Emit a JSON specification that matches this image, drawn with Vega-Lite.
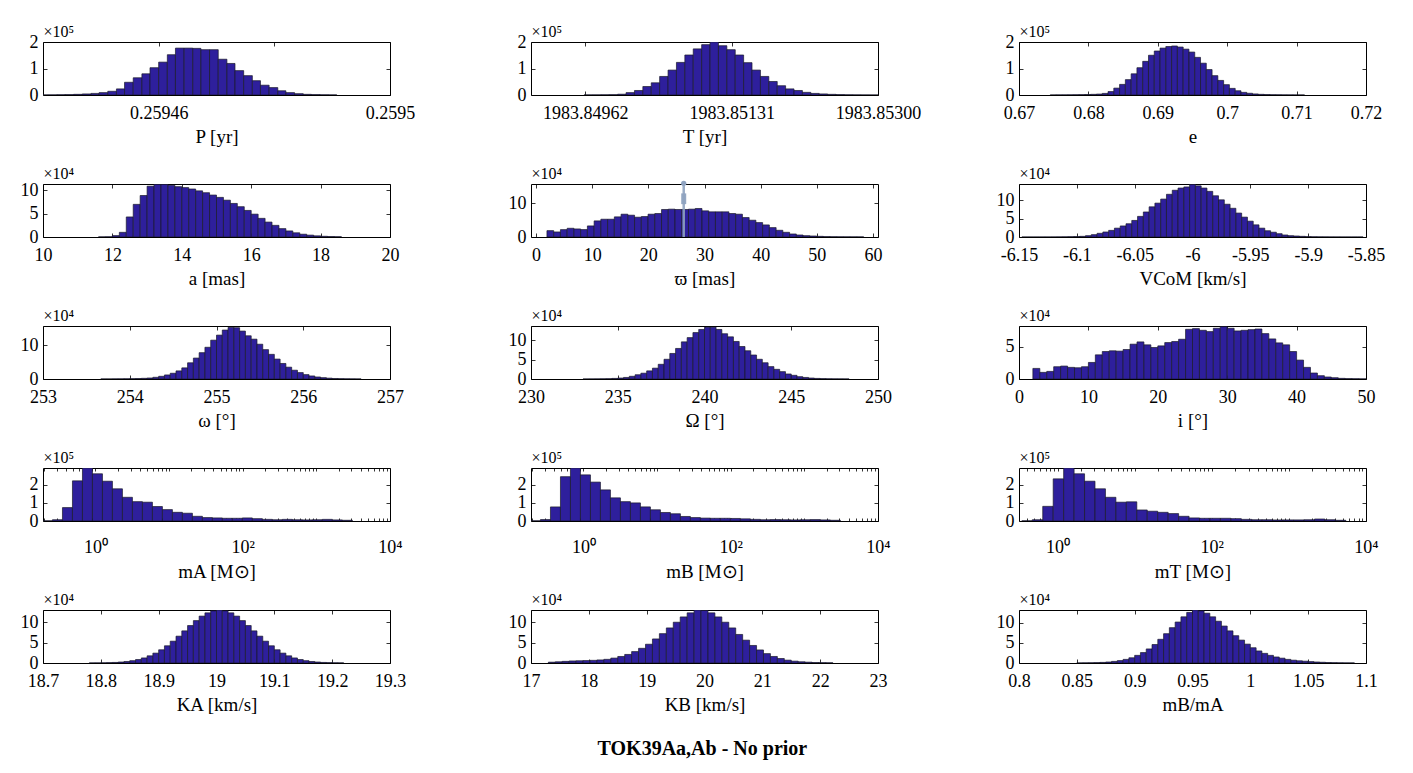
{
"$schema":"https://vega.github.io/schema/vega-lite/v6.json",
"background":"white",
"autosize":{"type":"pad"},
"padding":{"left":19,"top":22,"right":5,"bottom":5},
"bounds":"flush",
"columns":3,
"spacing":{"row":89,"column":141},
"title":{"text":"TOK39Aa,Ab - No prior","orient":"bottom","anchor":"middle","fontSize":20,"fontWeight":"bold","font":"Liberation Serif","color":"#000","offset":24},
"config":{
 "font":"Liberation Serif",
 "locale":{"number":{"decimal":".","thousands":",","grouping":[3],"currency":["$",""],"minus":"-"}},
 "view":{"stroke":"#000","strokeWidth":1},
 "axis":{"domain":false,"grid":false,"tickColor":"#000","tickWidth":0.8,"tickSize":-4,"labelFont":"Liberation Serif","labelFontSize":18,"labelColor":"#000","titleFont":"Liberation Serif","titleFontSize":19,"titleFontWeight":"normal","titleColor":"#000","labelFlush":false,"labelOverlap":false,"labelBound":false},
 "axisBottom":{"labelPadding":13,"titlePadding":5},
 "axisLeft":{"labelPadding":9,"titleAngle":0,"titleAlign":"left","titleBaseline":"alphabetic","titleX":0,"titleY":-6,"titleFontSize":16},
 "axisTop":{"labels":false},
 "axisRight":{"labels":false}
},
"datasets":{
"P":[{"a":0.2594394,"b":0.2594409,"c":0.003},{"a":0.2594409,"b":0.2594424,"c":0.005},{"a":0.2594424,"b":0.2594438,"c":0.01},{"a":0.2594438,"b":0.2594453,"c":0.015},{"a":0.2594453,"b":0.2594468,"c":0.025},{"a":0.2594468,"b":0.2594483,"c":0.04},{"a":0.2594483,"b":0.2594497,"c":0.06},{"a":0.2594497,"b":0.2594512,"c":0.09},{"a":0.2594512,"b":0.2594527,"c":0.14},{"a":0.2594527,"b":0.2594541,"c":0.23},{"a":0.2594541,"b":0.2594556,"c":0.48},{"a":0.2594556,"b":0.2594571,"c":0.65},{"a":0.2594571,"b":0.2594585,"c":0.8},{"a":0.2594585,"b":0.25946,"c":1.03},{"a":0.25946,"b":0.2594615,"c":1.24},{"a":0.2594615,"b":0.2594629,"c":1.52},{"a":0.2594629,"b":0.2594644,"c":1.77},{"a":0.2594644,"b":0.2594659,"c":1.77},{"a":0.2594659,"b":0.2594673,"c":1.76},{"a":0.2594673,"b":0.2594688,"c":1.71},{"a":0.2594688,"b":0.2594703,"c":1.71},{"a":0.2594703,"b":0.2594718,"c":1.35},{"a":0.2594718,"b":0.2594732,"c":1.19},{"a":0.2594732,"b":0.2594747,"c":0.92},{"a":0.2594747,"b":0.2594762,"c":0.73},{"a":0.2594762,"b":0.2594776,"c":0.54},{"a":0.2594776,"b":0.2594791,"c":0.37},{"a":0.2594791,"b":0.2594806,"c":0.28},{"a":0.2594806,"b":0.259482,"c":0.16},{"a":0.259482,"b":0.2594835,"c":0.09},{"a":0.2594835,"b":0.259485,"c":0.05},{"a":0.259485,"b":0.2594864,"c":0.025},{"a":0.2594864,"b":0.2594879,"c":0.015},{"a":0.2594879,"b":0.2594894,"c":0.008},{"a":0.2594894,"b":0.2594908,"c":0.004}],
"T":[{"a":1983.849605,"b":1983.849702,"c":0.004},{"a":1983.849702,"b":1983.849799,"c":0.005},{"a":1983.849799,"b":1983.849896,"c":0.008},{"a":1983.849896,"b":1983.849993,"c":0.012},{"a":1983.849993,"b":1983.85009,"c":0.03},{"a":1983.85009,"b":1983.850187,"c":0.09},{"a":1983.850187,"b":1983.850284,"c":0.17},{"a":1983.850284,"b":1983.850381,"c":0.32},{"a":1983.850381,"b":1983.850478,"c":0.46},{"a":1983.850478,"b":1983.850575,"c":0.7},{"a":1983.850575,"b":1983.850672,"c":0.94},{"a":1983.850672,"b":1983.850769,"c":1.23},{"a":1983.850769,"b":1983.850866,"c":1.51},{"a":1983.850866,"b":1983.850963,"c":1.74},{"a":1983.850963,"b":1983.85106,"c":1.9},{"a":1983.85106,"b":1983.851157,"c":2.0},{"a":1983.851157,"b":1983.851254,"c":1.86},{"a":1983.851254,"b":1983.851351,"c":1.71},{"a":1983.851351,"b":1983.851448,"c":1.51},{"a":1983.851448,"b":1983.851545,"c":1.22},{"a":1983.851545,"b":1983.851642,"c":0.94},{"a":1983.851642,"b":1983.851739,"c":0.7},{"a":1983.851739,"b":1983.851836,"c":0.51},{"a":1983.851836,"b":1983.851933,"c":0.35},{"a":1983.851933,"b":1983.85203,"c":0.23},{"a":1983.85203,"b":1983.852127,"c":0.17},{"a":1983.852127,"b":1983.852224,"c":0.1},{"a":1983.852224,"b":1983.852321,"c":0.06},{"a":1983.852321,"b":1983.852418,"c":0.04},{"a":1983.852418,"b":1983.852515,"c":0.025},{"a":1983.852515,"b":1983.852612,"c":0.015},{"a":1983.852612,"b":1983.852709,"c":0.008},{"a":1983.852709,"b":1983.852806,"c":0.005},{"a":1983.852806,"b":1983.852903,"c":0.003},{"a":1983.852903,"b":1983.853,"c":0.002}],
"E":[{"a":0.674497,"b":0.67533,"c":0.003},{"a":0.67533,"b":0.676163,"c":0.004},{"a":0.676163,"b":0.676996,"c":0.005},{"a":0.676996,"b":0.677829,"c":0.007},{"a":0.677829,"b":0.678662,"c":0.01},{"a":0.678662,"b":0.679495,"c":0.013},{"a":0.679495,"b":0.680328,"c":0.018},{"a":0.680328,"b":0.681161,"c":0.025},{"a":0.681161,"b":0.681994,"c":0.035},{"a":0.681994,"b":0.682827,"c":0.06},{"a":0.682827,"b":0.68366,"c":0.13},{"a":0.68366,"b":0.684493,"c":0.26},{"a":0.684493,"b":0.685326,"c":0.4},{"a":0.685326,"b":0.686159,"c":0.58},{"a":0.686159,"b":0.686992,"c":0.8},{"a":0.686992,"b":0.687825,"c":1.03},{"a":0.687825,"b":0.688658,"c":1.27},{"a":0.688658,"b":0.689491,"c":1.5},{"a":0.689491,"b":0.690324,"c":1.66},{"a":0.690324,"b":0.691157,"c":1.77},{"a":0.691157,"b":0.69199,"c":1.83},{"a":0.69199,"b":0.692823,"c":1.85},{"a":0.692823,"b":0.693656,"c":1.81},{"a":0.693656,"b":0.694489,"c":1.73},{"a":0.694489,"b":0.695322,"c":1.62},{"a":0.695322,"b":0.696155,"c":1.42},{"a":0.696155,"b":0.696988,"c":1.2},{"a":0.696988,"b":0.697821,"c":0.96},{"a":0.697821,"b":0.698654,"c":0.73},{"a":0.698654,"b":0.699487,"c":0.55},{"a":0.699487,"b":0.70032,"c":0.39},{"a":0.70032,"b":0.701153,"c":0.25},{"a":0.701153,"b":0.701986,"c":0.16},{"a":0.701986,"b":0.702819,"c":0.1},{"a":0.702819,"b":0.703652,"c":0.065},{"a":0.703652,"b":0.704485,"c":0.04},{"a":0.704485,"b":0.705318,"c":0.025},{"a":0.705318,"b":0.706151,"c":0.017},{"a":0.706151,"b":0.706984,"c":0.011},{"a":0.706984,"b":0.707817,"c":0.008},{"a":0.707817,"b":0.70865,"c":0.005},{"a":0.70865,"b":0.709483,"c":0.004},{"a":0.709483,"b":0.710316,"c":0.003},{"a":0.710316,"b":0.711149,"c":0.002}],
"A":[{"a":11.6,"b":11.8,"c":0.03},{"a":11.8,"b":12.0,"c":0.05},{"a":12.0,"b":12.2,"c":0.3},{"a":12.2,"b":12.4,"c":1.0},{"a":12.4,"b":12.6,"c":4.3},{"a":12.6,"b":12.8,"c":7.0},{"a":12.8,"b":13.0,"c":8.9},{"a":13.0,"b":13.2,"c":10.9},{"a":13.2,"b":13.4,"c":11.3},{"a":13.4,"b":13.6,"c":11.3},{"a":13.6,"b":13.8,"c":11.1},{"a":13.8,"b":14.0,"c":10.8},{"a":14.0,"b":14.2,"c":10.6},{"a":14.2,"b":14.4,"c":10.3},{"a":14.4,"b":14.6,"c":9.9},{"a":14.6,"b":14.8,"c":9.5},{"a":14.8,"b":15.0,"c":9.0},{"a":15.0,"b":15.2,"c":8.5},{"a":15.2,"b":15.4,"c":7.9},{"a":15.4,"b":15.6,"c":7.2},{"a":15.6,"b":15.8,"c":6.5},{"a":15.8,"b":16.0,"c":5.7},{"a":16.0,"b":16.2,"c":4.9},{"a":16.2,"b":16.4,"c":4.0},{"a":16.4,"b":16.6,"c":3.2},{"a":16.6,"b":16.8,"c":2.5},{"a":16.8,"b":17.0,"c":1.8},{"a":17.0,"b":17.2,"c":1.3},{"a":17.2,"b":17.4,"c":0.9},{"a":17.4,"b":17.6,"c":0.6},{"a":17.6,"b":17.8,"c":0.4},{"a":17.8,"b":18.0,"c":0.25},{"a":18.0,"b":18.2,"c":0.15},{"a":18.2,"b":18.4,"c":0.1},{"a":18.4,"b":18.6,"c":0.06}],
"W":[{"a":1.95,"b":3.15,"c":1.9},{"a":3.15,"b":4.35,"c":1.5},{"a":4.35,"b":5.55,"c":2.2},{"a":5.55,"b":6.75,"c":2.6},{"a":6.75,"b":7.95,"c":2.4},{"a":7.95,"b":9.15,"c":2.2},{"a":9.15,"b":10.35,"c":3.3},{"a":10.35,"b":11.55,"c":4.8},{"a":11.55,"b":12.75,"c":5.3},{"a":12.75,"b":13.95,"c":5.3},{"a":13.95,"b":15.15,"c":6.0},{"a":15.15,"b":16.35,"c":6.8},{"a":16.35,"b":17.55,"c":6.5},{"a":17.55,"b":18.75,"c":5.9},{"a":18.75,"b":19.95,"c":6.1},{"a":19.95,"b":21.15,"c":6.8},{"a":21.15,"b":22.35,"c":7.0},{"a":22.35,"b":23.55,"c":8.2},{"a":23.55,"b":24.75,"c":8.3},{"a":24.75,"b":25.95,"c":8.2},{"a":25.95,"b":27.15,"c":8.2},{"a":27.15,"b":28.35,"c":8.3},{"a":28.35,"b":29.55,"c":8.5},{"a":29.55,"b":30.75,"c":7.8},{"a":30.75,"b":31.95,"c":7.5},{"a":31.95,"b":33.15,"c":7.5},{"a":33.15,"b":34.35,"c":7.5},{"a":34.35,"b":35.55,"c":7.0},{"a":35.55,"b":36.75,"c":6.8},{"a":36.75,"b":37.95,"c":5.8},{"a":37.95,"b":39.15,"c":5.0},{"a":39.15,"b":40.35,"c":4.3},{"a":40.35,"b":41.55,"c":3.6},{"a":41.55,"b":42.75,"c":2.8},{"a":42.75,"b":43.95,"c":2.0},{"a":43.95,"b":45.15,"c":1.4},{"a":45.15,"b":46.35,"c":0.9},{"a":46.35,"b":47.55,"c":0.6},{"a":47.55,"b":48.75,"c":0.4},{"a":48.75,"b":49.95,"c":0.3},{"a":49.95,"b":51.15,"c":0.2},{"a":51.15,"b":52.35,"c":0.12},{"a":52.35,"b":53.55,"c":0.08},{"a":53.55,"b":54.75,"c":0.06},{"a":54.75,"b":55.95,"c":0.05},{"a":55.95,"b":57.15,"c":0.04},{"a":57.15,"b":58.35,"c":0.03}],
"Wm":[{"x":26.3,"y0":0,"y1":15.8,"r0":9.8,"r1":13.0,"t":16.0}],
"V":[{"a":-6.1475,"b":-6.1425,"c":0.01},{"a":-6.1425,"b":-6.1375,"c":0.01},{"a":-6.1375,"b":-6.1325,"c":0.01},{"a":-6.1325,"b":-6.1275,"c":0.01},{"a":-6.1275,"b":-6.1225,"c":0.01},{"a":-6.1225,"b":-6.1175,"c":0.02},{"a":-6.1175,"b":-6.1125,"c":0.03},{"a":-6.1125,"b":-6.1075,"c":0.05},{"a":-6.1075,"b":-6.1025,"c":0.08},{"a":-6.1025,"b":-6.0975,"c":0.12},{"a":-6.0975,"b":-6.0925,"c":0.18},{"a":-6.0925,"b":-6.0875,"c":0.36},{"a":-6.0875,"b":-6.0825,"c":0.64},{"a":-6.0825,"b":-6.0775,"c":1.0},{"a":-6.0775,"b":-6.0725,"c":1.36},{"a":-6.0725,"b":-6.0675,"c":1.8},{"a":-6.0675,"b":-6.0625,"c":2.4},{"a":-6.0625,"b":-6.0575,"c":3.0},{"a":-6.0575,"b":-6.0525,"c":3.6},{"a":-6.0525,"b":-6.0475,"c":4.5},{"a":-6.0475,"b":-6.0425,"c":5.6},{"a":-6.0425,"b":-6.0375,"c":6.8},{"a":-6.0375,"b":-6.0325,"c":8.2},{"a":-6.0325,"b":-6.0275,"c":9.2},{"a":-6.0275,"b":-6.0225,"c":10.3},{"a":-6.0225,"b":-6.0175,"c":11.6},{"a":-6.0175,"b":-6.0125,"c":12.7},{"a":-6.0125,"b":-6.0075,"c":13.3},{"a":-6.0075,"b":-6.0025,"c":13.6},{"a":-6.0025,"b":-5.9975,"c":14.3},{"a":-5.9975,"b":-5.9925,"c":13.9},{"a":-5.9925,"b":-5.9875,"c":13.3},{"a":-5.9875,"b":-5.9825,"c":12.4},{"a":-5.9825,"b":-5.9775,"c":11.2},{"a":-5.9775,"b":-5.9725,"c":10.1},{"a":-5.9725,"b":-5.9675,"c":8.9},{"a":-5.9675,"b":-5.9625,"c":7.8},{"a":-5.9625,"b":-5.9575,"c":6.5},{"a":-5.9575,"b":-5.9525,"c":5.4},{"a":-5.9525,"b":-5.9475,"c":4.3},{"a":-5.9475,"b":-5.9425,"c":3.3},{"a":-5.9425,"b":-5.9375,"c":2.4},{"a":-5.9375,"b":-5.9325,"c":1.7},{"a":-5.9325,"b":-5.9275,"c":1.3},{"a":-5.9275,"b":-5.9225,"c":0.9},{"a":-5.9225,"b":-5.9175,"c":0.55},{"a":-5.9175,"b":-5.9125,"c":0.36},{"a":-5.9125,"b":-5.9075,"c":0.27},{"a":-5.9075,"b":-5.9025,"c":0.18},{"a":-5.9025,"b":-5.8975,"c":0.1},{"a":-5.8975,"b":-5.8925,"c":0.06},{"a":-5.8925,"b":-5.8875,"c":0.04},{"a":-5.8875,"b":-5.8825,"c":0.03},{"a":-5.8825,"b":-5.8775,"c":0.02},{"a":-5.8775,"b":-5.8725,"c":0.015},{"a":-5.8725,"b":-5.8675,"c":0.01},{"a":-5.8675,"b":-5.8625,"c":0.01},{"a":-5.8625,"b":-5.8575,"c":0.01},{"a":-5.8575,"b":-5.8525,"c":0.01}],
"Om":[{"a":253.6667,"b":253.7333,"c":0.02},{"a":253.7333,"b":253.8,"c":0.03},{"a":253.8,"b":253.8667,"c":0.04},{"a":253.8667,"b":253.9333,"c":0.05},{"a":253.9333,"b":254.0,"c":0.07},{"a":254.0,"b":254.0667,"c":0.1},{"a":254.0667,"b":254.1333,"c":0.14},{"a":254.1333,"b":254.2,"c":0.2},{"a":254.2,"b":254.2667,"c":0.3},{"a":254.2667,"b":254.3333,"c":0.5},{"a":254.3333,"b":254.4,"c":0.8},{"a":254.4,"b":254.4667,"c":1.2},{"a":254.4667,"b":254.5333,"c":1.7},{"a":254.5333,"b":254.6,"c":2.4},{"a":254.6,"b":254.6667,"c":3.3},{"a":254.6667,"b":254.7333,"c":4.8},{"a":254.7333,"b":254.8,"c":6.2},{"a":254.8,"b":254.8667,"c":7.8},{"a":254.8667,"b":254.9333,"c":9.4},{"a":254.9333,"b":255.0,"c":11.5},{"a":255.0,"b":255.0667,"c":13.0},{"a":255.0667,"b":255.1333,"c":14.5},{"a":255.1333,"b":255.2,"c":15.3},{"a":255.2,"b":255.2667,"c":15.2},{"a":255.2667,"b":255.3333,"c":14.2},{"a":255.3333,"b":255.4,"c":12.8},{"a":255.4,"b":255.4667,"c":11.8},{"a":255.4667,"b":255.5333,"c":10.3},{"a":255.5333,"b":255.6,"c":8.7},{"a":255.6,"b":255.6667,"c":7.3},{"a":255.6667,"b":255.7333,"c":5.9},{"a":255.7333,"b":255.8,"c":4.6},{"a":255.8,"b":255.8667,"c":3.5},{"a":255.8667,"b":255.9333,"c":2.6},{"a":255.9333,"b":256.0,"c":1.9},{"a":256.0,"b":256.0667,"c":1.3},{"a":256.0667,"b":256.1333,"c":0.9},{"a":256.1333,"b":256.2,"c":0.6},{"a":256.2,"b":256.2667,"c":0.4},{"a":256.2667,"b":256.3333,"c":0.25},{"a":256.3333,"b":256.4,"c":0.15},{"a":256.4,"b":256.4667,"c":0.1},{"a":256.4667,"b":256.5333,"c":0.06},{"a":256.5333,"b":256.6,"c":0.04},{"a":256.6,"b":256.6667,"c":0.02}],
"Ob":[{"a":233.0,"b":233.333,"c":0.01},{"a":233.333,"b":233.667,"c":0.02},{"a":233.667,"b":234.0,"c":0.03},{"a":234.0,"b":234.333,"c":0.05},{"a":234.333,"b":234.667,"c":0.08},{"a":234.667,"b":235.0,"c":0.15},{"a":235.0,"b":235.333,"c":0.25},{"a":235.333,"b":235.667,"c":0.4},{"a":235.667,"b":236.0,"c":0.7},{"a":236.0,"b":236.333,"c":1.1},{"a":236.333,"b":236.667,"c":1.5},{"a":236.667,"b":237.0,"c":2.1},{"a":237.0,"b":237.333,"c":2.8},{"a":237.333,"b":237.667,"c":3.8},{"a":237.667,"b":238.0,"c":5.1},{"a":238.0,"b":238.333,"c":6.6},{"a":238.333,"b":238.667,"c":7.9},{"a":238.667,"b":239.0,"c":9.6},{"a":239.0,"b":239.333,"c":10.7},{"a":239.333,"b":239.667,"c":12.0},{"a":239.667,"b":240.0,"c":12.8},{"a":240.0,"b":240.333,"c":13.4},{"a":240.333,"b":240.667,"c":13.4},{"a":240.667,"b":241.0,"c":12.8},{"a":241.0,"b":241.333,"c":11.7},{"a":241.333,"b":241.667,"c":10.9},{"a":241.667,"b":242.0,"c":9.7},{"a":242.0,"b":242.333,"c":8.4},{"a":242.333,"b":242.667,"c":7.3},{"a":242.667,"b":243.0,"c":6.2},{"a":243.0,"b":243.333,"c":5.1},{"a":243.333,"b":243.667,"c":4.2},{"a":243.667,"b":244.0,"c":3.2},{"a":244.0,"b":244.333,"c":2.5},{"a":244.333,"b":244.667,"c":1.9},{"a":244.667,"b":245.0,"c":1.3},{"a":245.0,"b":245.333,"c":0.95},{"a":245.333,"b":245.667,"c":0.6},{"a":245.667,"b":246.0,"c":0.4},{"a":246.0,"b":246.333,"c":0.25},{"a":246.333,"b":246.667,"c":0.15},{"a":246.667,"b":247.0,"c":0.1},{"a":247.0,"b":247.333,"c":0.06},{"a":247.333,"b":247.667,"c":0.04},{"a":247.667,"b":248.0,"c":0.03},{"a":248.0,"b":248.333,"c":0.02}],
"I":[{"a":2,"b":3,"c":1.63},{"a":3,"b":4,"c":1.02},{"a":4,"b":5,"c":1.17},{"a":5,"b":6,"c":1.89},{"a":6,"b":7,"c":1.99},{"a":7,"b":8,"c":1.79},{"a":8,"b":9,"c":1.73},{"a":9,"b":10,"c":1.89},{"a":10,"b":11,"c":2.55},{"a":11,"b":12,"c":3.72},{"a":12,"b":13,"c":4.23},{"a":13,"b":14,"c":4.34},{"a":14,"b":15,"c":4.29},{"a":15,"b":16,"c":4.54},{"a":16,"b":17,"c":5.36},{"a":17,"b":18,"c":5.71},{"a":18,"b":19,"c":5.26},{"a":19,"b":20,"c":4.85},{"a":20,"b":21,"c":5.1},{"a":21,"b":22,"c":5.61},{"a":22,"b":23,"c":5.77},{"a":23,"b":24,"c":6.12},{"a":24,"b":25,"c":7.65},{"a":25,"b":26,"c":7.76},{"a":26,"b":27,"c":7.5},{"a":27,"b":28,"c":7.3},{"a":28,"b":29,"c":7.81},{"a":29,"b":30,"c":8.06},{"a":30,"b":31,"c":7.81},{"a":31,"b":32,"c":7.4},{"a":32,"b":33,"c":7.5},{"a":33,"b":34,"c":7.6},{"a":34,"b":35,"c":7.7},{"a":35,"b":36,"c":6.99},{"a":36,"b":37,"c":6.17},{"a":37,"b":38,"c":5.56},{"a":38,"b":39,"c":5.26},{"a":39,"b":40,"c":4.23},{"a":40,"b":41,"c":2.91},{"a":41,"b":42,"c":1.79},{"a":42,"b":43,"c":0.92},{"a":43,"b":44,"c":0.51},{"a":44,"b":45,"c":0.31},{"a":45,"b":46,"c":0.2},{"a":46,"b":47,"c":0.1},{"a":47,"b":48,"c":0.06},{"a":48,"b":49,"c":0.04},{"a":49,"b":50,"c":0.02}],
"MA":[{"a":0.1908,"b":0.2607,"c":0.01},{"a":0.2607,"b":0.3565,"c":0.07},{"a":0.3565,"b":0.4873,"c":0.74},{"a":0.4873,"b":0.6662,"c":2.22},{"a":0.6662,"b":0.9105,"c":2.93},{"a":0.9105,"b":1.245,"c":2.61},{"a":1.245,"b":1.701,"c":2.2},{"a":1.701,"b":2.325,"c":1.78},{"a":2.325,"b":3.179,"c":1.31},{"a":3.179,"b":4.345,"c":1.07},{"a":4.345,"b":5.94,"c":1.04},{"a":5.94,"b":8.119,"c":0.8},{"a":8.119,"b":11.1,"c":0.63},{"a":11.1,"b":15.17,"c":0.48},{"a":15.17,"b":20.74,"c":0.43},{"a":20.74,"b":28.35,"c":0.26},{"a":28.35,"b":38.76,"c":0.19},{"a":38.76,"b":52.97,"c":0.17},{"a":52.97,"b":72.41,"c":0.15},{"a":72.41,"b":98.97,"c":0.15},{"a":98.97,"b":135.3,"c":0.17},{"a":135.3,"b":184.9,"c":0.13},{"a":184.9,"b":252.8,"c":0.09},{"a":252.8,"b":345.5,"c":0.07},{"a":345.5,"b":472.3,"c":0.09},{"a":472.3,"b":645.7,"c":0.07},{"a":645.7,"b":882.6,"c":0.06},{"a":882.6,"b":1206,"c":0.07},{"a":1206,"b":1650,"c":0.09},{"a":1650,"b":2254,"c":0.06},{"a":2254,"b":3082,"c":0.04}],
"MB":[{"a":0.1908,"b":0.2607,"c":0.01},{"a":0.2607,"b":0.3565,"c":0.08},{"a":0.3565,"b":0.4873,"c":0.78},{"a":0.4873,"b":0.6662,"c":2.45},{"a":0.6662,"b":0.9105,"c":2.93},{"a":0.9105,"b":1.245,"c":2.55},{"a":1.245,"b":1.701,"c":2.15},{"a":1.701,"b":2.325,"c":1.72},{"a":2.325,"b":3.179,"c":1.28},{"a":3.179,"b":4.345,"c":1.07},{"a":4.345,"b":5.94,"c":1.0},{"a":5.94,"b":8.119,"c":0.78},{"a":8.119,"b":11.1,"c":0.62},{"a":11.1,"b":15.17,"c":0.47},{"a":15.17,"b":20.74,"c":0.4},{"a":20.74,"b":28.35,"c":0.25},{"a":28.35,"b":38.76,"c":0.19},{"a":38.76,"b":52.97,"c":0.16},{"a":52.97,"b":72.41,"c":0.15},{"a":72.41,"b":98.97,"c":0.15},{"a":98.97,"b":135.3,"c":0.14},{"a":135.3,"b":184.9,"c":0.12},{"a":184.9,"b":252.8,"c":0.09},{"a":252.8,"b":345.5,"c":0.07},{"a":345.5,"b":472.3,"c":0.08},{"a":472.3,"b":645.7,"c":0.07},{"a":645.7,"b":882.6,"c":0.06},{"a":882.6,"b":1206,"c":0.07},{"a":1206,"b":1650,"c":0.08},{"a":1650,"b":2254,"c":0.06},{"a":2254,"b":3082,"c":0.04}],
"MT":[{"a":0.344,"b":0.47,"c":0.01},{"a":0.47,"b":0.6421,"c":0.07},{"a":0.6421,"b":0.8774,"c":0.81},{"a":0.8774,"b":1.1988,"c":2.33},{"a":1.1988,"b":1.6379,"c":2.93},{"a":1.6379,"b":2.2377,"c":2.61},{"a":2.2377,"b":3.0575,"c":2.2},{"a":3.0575,"b":4.1774,"c":1.78},{"a":4.1774,"b":5.7068,"c":1.31},{"a":5.7068,"b":7.7983,"c":1.04},{"a":7.7983,"b":10.655,"c":1.06},{"a":10.655,"b":14.555,"c":0.61},{"a":14.555,"b":19.893,"c":0.54},{"a":19.893,"b":27.18,"c":0.48},{"a":27.18,"b":37.13,"c":0.41},{"a":37.13,"b":50.73,"c":0.26},{"a":50.73,"b":69.3,"c":0.17},{"a":69.3,"b":94.69,"c":0.15},{"a":94.69,"b":129.4,"c":0.15},{"a":129.4,"b":176.8,"c":0.15},{"a":176.8,"b":241.5,"c":0.13},{"a":241.5,"b":329.9,"c":0.09},{"a":329.9,"b":450.8,"c":0.07},{"a":450.8,"b":615.9,"c":0.07},{"a":615.9,"b":841.8,"c":0.06},{"a":841.8,"b":1150,"c":0.06},{"a":1150,"b":1571,"c":0.06},{"a":1571,"b":2147,"c":0.07},{"a":2147,"b":2933,"c":0.11},{"a":2933,"b":4008,"c":0.07},{"a":4008,"b":5474,"c":0.04}],
"KA":[{"a":18.78,"b":18.79,"c":0.02},{"a":18.79,"b":18.8,"c":0.03},{"a":18.8,"b":18.81,"c":0.05},{"a":18.81,"b":18.82,"c":0.09},{"a":18.82,"b":18.83,"c":0.14},{"a":18.83,"b":18.84,"c":0.24},{"a":18.84,"b":18.85,"c":0.37},{"a":18.85,"b":18.86,"c":0.57},{"a":18.86,"b":18.87,"c":0.85},{"a":18.87,"b":18.88,"c":1.24},{"a":18.88,"b":18.89,"c":1.76},{"a":18.89,"b":18.9,"c":2.42},{"a":18.9,"b":18.91,"c":3.24},{"a":18.91,"b":18.92,"c":4.22},{"a":18.92,"b":18.93,"c":5.35},{"a":18.93,"b":18.94,"c":6.58},{"a":18.94,"b":18.95,"c":7.88},{"a":18.95,"b":18.96,"c":9.19},{"a":18.96,"b":18.97,"c":10.4},{"a":18.97,"b":18.98,"c":11.5},{"a":18.98,"b":18.99,"c":12.3},{"a":18.99,"b":19.0,"c":12.8},{"a":19.0,"b":19.01,"c":13.0},{"a":19.01,"b":19.02,"c":12.8},{"a":19.02,"b":19.03,"c":12.3},{"a":19.03,"b":19.04,"c":11.5},{"a":19.04,"b":19.05,"c":10.4},{"a":19.05,"b":19.06,"c":9.19},{"a":19.06,"b":19.07,"c":7.88},{"a":19.07,"b":19.08,"c":6.58},{"a":19.08,"b":19.09,"c":5.35},{"a":19.09,"b":19.1,"c":4.22},{"a":19.1,"b":19.11,"c":3.24},{"a":19.11,"b":19.12,"c":2.42},{"a":19.12,"b":19.13,"c":1.76},{"a":19.13,"b":19.14,"c":1.24},{"a":19.14,"b":19.15,"c":0.85},{"a":19.15,"b":19.16,"c":0.57},{"a":19.16,"b":19.17,"c":0.37},{"a":19.17,"b":19.18,"c":0.24},{"a":19.18,"b":19.19,"c":0.14},{"a":19.19,"b":19.2,"c":0.09},{"a":19.2,"b":19.21,"c":0.05},{"a":19.21,"b":19.22,"c":0.03}],
"KB":[{"a":17.3,"b":17.42,"c":0.2},{"a":17.42,"b":17.54,"c":0.3},{"a":17.54,"b":17.66,"c":0.4},{"a":17.66,"b":17.78,"c":0.5},{"a":17.78,"b":17.9,"c":0.55},{"a":17.9,"b":18.02,"c":0.6},{"a":18.02,"b":18.14,"c":0.65},{"a":18.14,"b":18.26,"c":0.75},{"a":18.26,"b":18.38,"c":0.9},{"a":18.38,"b":18.5,"c":1.2},{"a":18.5,"b":18.62,"c":1.6},{"a":18.62,"b":18.74,"c":2.1},{"a":18.74,"b":18.86,"c":2.8},{"a":18.86,"b":18.98,"c":3.6},{"a":18.98,"b":19.1,"c":4.6},{"a":19.1,"b":19.22,"c":5.9},{"a":19.22,"b":19.34,"c":7.2},{"a":19.34,"b":19.46,"c":8.6},{"a":19.46,"b":19.58,"c":10.0},{"a":19.58,"b":19.7,"c":11.3},{"a":19.7,"b":19.82,"c":12.3},{"a":19.82,"b":19.94,"c":13.0},{"a":19.94,"b":20.06,"c":12.9},{"a":20.06,"b":20.18,"c":12.3},{"a":20.18,"b":20.3,"c":11.3},{"a":20.3,"b":20.42,"c":10.0},{"a":20.42,"b":20.54,"c":8.6},{"a":20.54,"b":20.66,"c":7.0},{"a":20.66,"b":20.78,"c":5.6},{"a":20.78,"b":20.9,"c":4.3},{"a":20.9,"b":21.02,"c":3.2},{"a":21.02,"b":21.14,"c":2.3},{"a":21.14,"b":21.26,"c":1.6},{"a":21.26,"b":21.38,"c":1.1},{"a":21.38,"b":21.5,"c":0.7},{"a":21.5,"b":21.62,"c":0.45},{"a":21.62,"b":21.74,"c":0.3},{"a":21.74,"b":21.86,"c":0.2},{"a":21.86,"b":21.98,"c":0.12},{"a":21.98,"b":22.1,"c":0.08},{"a":22.1,"b":22.22,"c":0.05}],
"Q":[{"a":0.85,"b":0.855,"c":0.02},{"a":0.855,"b":0.86,"c":0.04},{"a":0.86,"b":0.865,"c":0.06},{"a":0.865,"b":0.87,"c":0.1},{"a":0.87,"b":0.875,"c":0.15},{"a":0.875,"b":0.88,"c":0.25},{"a":0.88,"b":0.885,"c":0.4},{"a":0.885,"b":0.89,"c":0.6},{"a":0.89,"b":0.895,"c":0.9},{"a":0.895,"b":0.9,"c":1.3},{"a":0.9,"b":0.905,"c":1.9},{"a":0.905,"b":0.91,"c":2.6},{"a":0.91,"b":0.915,"c":3.5},{"a":0.915,"b":0.92,"c":4.6},{"a":0.92,"b":0.925,"c":5.9},{"a":0.925,"b":0.93,"c":7.3},{"a":0.93,"b":0.935,"c":8.8},{"a":0.935,"b":0.94,"c":10.2},{"a":0.94,"b":0.945,"c":11.5},{"a":0.945,"b":0.95,"c":12.6},{"a":0.95,"b":0.955,"c":13.2},{"a":0.955,"b":0.96,"c":13.0},{"a":0.96,"b":0.965,"c":12.4},{"a":0.965,"b":0.97,"c":11.5},{"a":0.97,"b":0.975,"c":10.4},{"a":0.975,"b":0.98,"c":9.2},{"a":0.98,"b":0.985,"c":8.0},{"a":0.985,"b":0.99,"c":6.8},{"a":0.99,"b":0.995,"c":5.7},{"a":0.995,"b":1.0,"c":4.7},{"a":1.0,"b":1.005,"c":3.8},{"a":1.005,"b":1.01,"c":3.0},{"a":1.01,"b":1.015,"c":2.4},{"a":1.015,"b":1.02,"c":1.9},{"a":1.02,"b":1.025,"c":1.5},{"a":1.025,"b":1.03,"c":1.2},{"a":1.03,"b":1.035,"c":0.9},{"a":1.035,"b":1.04,"c":0.7},{"a":1.04,"b":1.045,"c":0.55},{"a":1.045,"b":1.05,"c":0.45},{"a":1.05,"b":1.055,"c":0.35},{"a":1.055,"b":1.06,"c":0.25},{"a":1.06,"b":1.065,"c":0.18},{"a":1.065,"b":1.07,"c":0.12},{"a":1.07,"b":1.075,"c":0.08},{"a":1.075,"b":1.08,"c":0.05},{"a":1.08,"b":1.085,"c":0.03},{"a":1.085,"b":1.09,"c":0.02}]
},
"concat":[
{"data":{"name":"P"},"width":347,"height":53,"layer":[
 {"mark":{"type":"rect","fill":"#2e1f9c","stroke":"#1a1a2a","strokeWidth":0.7,"clip":true},"encoding":{
  "x":{"field":"a","type":"quantitative","scale":{"domain":[0.25944,0.2595],"nice":false,"zero":false},"axis":{"title":"P [yr]","values":[0.25946,0.25948,0.2595],"format":".5~f","labelExpr":"abs(datum.value-0.25948)<1e-8?'':datum.label"}},
  "x2":{"field":"b"},
  "y":{"field":"c","type":"quantitative","scale":{"domain":[0,2],"nice":false},"axis":{"title":"×10⁵","values":[0,1,2],"format":"~r"}},
  "y2":{"datum":0}}},
 {"mark":{"type":"point","opacity":0},"encoding":{
  "x":{"field":"a","type":"quantitative","scale":{"domain":[0.25944,0.2595],"nice":false,"zero":false},"axis":{"orient":"top","title":null,"values":[0.25946,0.25948,0.2595]}},
  "y":{"field":"c","type":"quantitative","scale":{"domain":[0,2],"nice":false},"axis":{"orient":"right","title":null,"values":[0,1,2]}}}}
 ],"resolve":{"axis":{"x":"independent","y":"independent"}}},
{"data":{"name":"T"},"width":347,"height":53,"layer":[
 {"mark":{"type":"rect","fill":"#2e1f9c","stroke":"#1a1a2a","strokeWidth":0.7,"clip":true},"encoding":{
  "x":{"field":"a","type":"quantitative","scale":{"domain":[1983.848992,1983.853],"nice":false,"zero":false},"axis":{"title":"T [yr]","values":[1983.84962,1983.85131,1983.853],"format":".5f"}},
  "x2":{"field":"b"},
  "y":{"field":"c","type":"quantitative","scale":{"domain":[0,2],"nice":false},"axis":{"title":"×10⁵","values":[0,1,2],"format":"~r"}},
  "y2":{"datum":0}}},
 {"mark":{"type":"point","opacity":0},"encoding":{
  "x":{"field":"a","type":"quantitative","scale":{"domain":[1983.848992,1983.853],"nice":false,"zero":false},"axis":{"orient":"top","title":null,"values":[1983.84962,1983.85131,1983.853]}},
  "y":{"field":"c","type":"quantitative","scale":{"domain":[0,2],"nice":false},"axis":{"orient":"right","title":null,"values":[0,1,2]}}}}
 ],"resolve":{"axis":{"x":"independent","y":"independent"}}},
{"data":{"name":"E"},"width":347,"height":53,"layer":[
 {"mark":{"type":"rect","fill":"#2e1f9c","stroke":"#1a1a2a","strokeWidth":0.7,"clip":true},"encoding":{
  "x":{"field":"a","type":"quantitative","scale":{"domain":[0.67,0.72],"nice":false,"zero":false},"axis":{"title":"e","values":[0.67,0.68,0.69,0.7,0.71,0.72],"format":"~r"}},
  "x2":{"field":"b"},
  "y":{"field":"c","type":"quantitative","scale":{"domain":[0,2],"nice":false},"axis":{"title":"×10⁵","values":[0,1,2],"format":"~r"}},
  "y2":{"datum":0}}},
 {"mark":{"type":"point","opacity":0},"encoding":{
  "x":{"field":"a","type":"quantitative","scale":{"domain":[0.67,0.72],"nice":false,"zero":false},"axis":{"orient":"top","title":null,"values":[0.67,0.68,0.69,0.7,0.71,0.72]}},
  "y":{"field":"c","type":"quantitative","scale":{"domain":[0,2],"nice":false},"axis":{"orient":"right","title":null,"values":[0,1,2]}}}}
 ],"resolve":{"axis":{"x":"independent","y":"independent"}}},
{"data":{"name":"A"},"width":347,"height":53,"layer":[
 {"mark":{"type":"rect","fill":"#2e1f9c","stroke":"#1a1a2a","strokeWidth":0.7,"clip":true},"encoding":{
  "x":{"field":"a","type":"quantitative","scale":{"domain":[10,20],"nice":false,"zero":false},"axis":{"title":"a [mas]","values":[10,12,14,16,18,20],"format":"~r"}},
  "x2":{"field":"b"},
  "y":{"field":"c","type":"quantitative","scale":{"domain":[0,11.37],"nice":false},"axis":{"title":"×10⁴","values":[0,5,10],"format":"~r"}},
  "y2":{"datum":0}}},
 {"mark":{"type":"point","opacity":0},"encoding":{
  "x":{"field":"a","type":"quantitative","scale":{"domain":[10,20],"nice":false,"zero":false},"axis":{"orient":"top","title":null,"values":[10,12,14,16,18,20]}},
  "y":{"field":"c","type":"quantitative","scale":{"domain":[0,11.37],"nice":false},"axis":{"orient":"right","title":null,"values":[0,5,10]}}}}
 ],"resolve":{"axis":{"x":"independent","y":"independent"}}},
{"width":347,"height":53,"layer":[
 {"data":{"name":"W"},"mark":{"type":"rect","fill":"#2e1f9c","stroke":"#1a1a2a","strokeWidth":0.7,"clip":true},"encoding":{
  "x":{"field":"a","type":"quantitative","scale":{"domain":[0,60],"nice":false,"zero":false},"axis":{"title":"ϖ [mas]","values":[0,10,20,30,40,50,60],"format":"~r"}},
  "x2":{"field":"b"},
  "y":{"field":"c","type":"quantitative","scale":{"domain":[0,15.8],"nice":false},"axis":{"title":"×10⁴","values":[0,10],"format":"~r"}},
  "y2":{"datum":0}}},
 {"data":{"name":"W"},"mark":{"type":"point","opacity":0},"encoding":{
  "x":{"field":"a","type":"quantitative","scale":{"domain":[0,60],"nice":false,"zero":false},"axis":{"orient":"top","title":null,"values":[0,10,20,30,40,50,60]}},
  "y":{"field":"c","type":"quantitative","scale":{"domain":[0,15.8],"nice":false},"axis":{"orient":"right","title":null,"values":[0,10]}}}},
 {"data":{"name":"Wm"},"mark":{"type":"rule","color":"#8fa3c0","strokeWidth":2.5,"opacity":0.9},"encoding":{
  "x":{"field":"x","type":"quantitative","scale":{"domain":[0,60],"nice":false,"zero":false},"axis":null},
  "y":{"field":"y0","type":"quantitative","scale":{"domain":[0,15.8],"nice":false},"axis":null},
  "y2":{"field":"y1"}}},
 {"data":{"name":"Wm"},"mark":{"type":"bar","color":"#8fa3c0","size":5,"opacity":0.95},"encoding":{
  "x":{"field":"x","type":"quantitative","scale":{"domain":[0,60],"nice":false,"zero":false},"axis":null},
  "y":{"field":"r0","type":"quantitative","scale":{"domain":[0,15.8],"nice":false},"axis":null},
  "y2":{"field":"r1"}}},
 {"data":{"name":"Wm"},"mark":{"type":"point","filled":true,"color":"#8fa3c0","size":28,"opacity":1},"encoding":{
  "x":{"field":"x","type":"quantitative","scale":{"domain":[0,60],"nice":false,"zero":false},"axis":null},
  "y":{"field":"t","type":"quantitative","scale":{"domain":[0,15.8],"nice":false},"axis":null}}}
 ],"resolve":{"axis":{"x":"independent","y":"independent"}}},
{"data":{"name":"V"},"width":347,"height":53,"layer":[
 {"mark":{"type":"rect","fill":"#2e1f9c","stroke":"#1a1a2a","strokeWidth":0.7,"clip":true},"encoding":{
  "x":{"field":"a","type":"quantitative","scale":{"domain":[-6.15,-5.85],"nice":false,"zero":false},"axis":{"title":"VCoM [km/s]","values":[-6.15,-6.1,-6.05,-6,-5.95,-5.9,-5.85],"format":"~r"}},
  "x2":{"field":"b"},
  "y":{"field":"c","type":"quantitative","scale":{"domain":[0,14.4],"nice":false},"axis":{"title":"×10⁴","values":[0,5,10],"format":"~r"}},
  "y2":{"datum":0}}},
 {"mark":{"type":"point","opacity":0},"encoding":{
  "x":{"field":"a","type":"quantitative","scale":{"domain":[-6.15,-5.85],"nice":false,"zero":false},"axis":{"orient":"top","title":null,"values":[-6.15,-6.1,-6.05,-6,-5.95,-5.9,-5.85]}},
  "y":{"field":"c","type":"quantitative","scale":{"domain":[0,14.4],"nice":false},"axis":{"orient":"right","title":null,"values":[0,5,10]}}}}
 ],"resolve":{"axis":{"x":"independent","y":"independent"}}},
{"data":{"name":"Om"},"width":347,"height":53,"layer":[
 {"mark":{"type":"rect","fill":"#2e1f9c","stroke":"#1a1a2a","strokeWidth":0.7,"clip":true},"encoding":{
  "x":{"field":"a","type":"quantitative","scale":{"domain":[253,257],"nice":false,"zero":false},"axis":{"title":"ω [°]","values":[253,254,255,256,257],"format":"~r"}},
  "x2":{"field":"b"},
  "y":{"field":"c","type":"quantitative","scale":{"domain":[0,15.7],"nice":false},"axis":{"title":"×10⁴","values":[0,10],"format":"~r"}},
  "y2":{"datum":0}}},
 {"mark":{"type":"point","opacity":0},"encoding":{
  "x":{"field":"a","type":"quantitative","scale":{"domain":[253,257],"nice":false,"zero":false},"axis":{"orient":"top","title":null,"values":[253,254,255,256,257]}},
  "y":{"field":"c","type":"quantitative","scale":{"domain":[0,15.7],"nice":false},"axis":{"orient":"right","title":null,"values":[0,10]}}}}
 ],"resolve":{"axis":{"x":"independent","y":"independent"}}},
{"data":{"name":"Ob"},"width":347,"height":53,"layer":[
 {"mark":{"type":"rect","fill":"#2e1f9c","stroke":"#1a1a2a","strokeWidth":0.7,"clip":true},"encoding":{
  "x":{"field":"a","type":"quantitative","scale":{"domain":[230,250],"nice":false,"zero":false},"axis":{"title":"Ω [°]","values":[230,235,240,245,250],"format":"~r"}},
  "x2":{"field":"b"},
  "y":{"field":"c","type":"quantitative","scale":{"domain":[0,13.7],"nice":false},"axis":{"title":"×10⁴","values":[0,5,10],"format":"~r"}},
  "y2":{"datum":0}}},
 {"mark":{"type":"point","opacity":0},"encoding":{
  "x":{"field":"a","type":"quantitative","scale":{"domain":[230,250],"nice":false,"zero":false},"axis":{"orient":"top","title":null,"values":[230,235,240,245,250]}},
  "y":{"field":"c","type":"quantitative","scale":{"domain":[0,13.7],"nice":false},"axis":{"orient":"right","title":null,"values":[0,5,10]}}}}
 ],"resolve":{"axis":{"x":"independent","y":"independent"}}},
{"data":{"name":"I"},"width":347,"height":53,"layer":[
 {"mark":{"type":"rect","fill":"#2e1f9c","stroke":"#1a1a2a","strokeWidth":0.7,"clip":true},"encoding":{
  "x":{"field":"a","type":"quantitative","scale":{"domain":[0,50],"nice":false,"zero":false},"axis":{"title":"i [°]","values":[0,10,20,30,40,50],"format":"~r"}},
  "x2":{"field":"b"},
  "y":{"field":"c","type":"quantitative","scale":{"domain":[0,8.16],"nice":false},"axis":{"title":"×10⁴","values":[0,5],"format":"~r"}},
  "y2":{"datum":0}}},
 {"mark":{"type":"point","opacity":0},"encoding":{
  "x":{"field":"a","type":"quantitative","scale":{"domain":[0,50],"nice":false,"zero":false},"axis":{"orient":"top","title":null,"values":[0,10,20,30,40,50]}},
  "y":{"field":"c","type":"quantitative","scale":{"domain":[0,8.16],"nice":false},"axis":{"orient":"right","title":null,"values":[0,5]}}}}
 ],"resolve":{"axis":{"x":"independent","y":"independent"}}},
{"data":{"name":"MA"},"width":347,"height":53,"layer":[
 {"mark":{"type":"rect","fill":"#2e1f9c","stroke":"#1a1a2a","strokeWidth":0.7,"clip":true},"encoding":{
  "x":{"field":"a","type":"quantitative","scale":{"type":"log","domain":[0.194,10000],"nice":false},"axis":{"title":"mA  [M⊙]","tickSize":-3,"values":[0.2,0.3,0.4,0.5,0.6,0.7,0.8,0.9,1,2,3,4,5,6,7,8,9,10,20,30,40,50,60,70,80,90,100,200,300,400,500,600,700,800,900,1000,2000,3000,4000,5000,6000,7000,8000,9000,10000],"labelExpr":"datum.value==1?'10⁰':datum.value==100?'10²':datum.value==10000?'10⁴':''","labelPadding":20,"titlePadding":6}},
  "x2":{"field":"b"},
  "y":{"field":"c","type":"quantitative","scale":{"domain":[0,2.93],"nice":false},"axis":{"title":"×10⁵","values":[0,1,2],"format":"~r"}},
  "y2":{"datum":0}}},
 {"mark":{"type":"point","opacity":0},"encoding":{
  "x":{"field":"a","type":"quantitative","scale":{"type":"log","domain":[0.194,10000],"nice":false},"axis":{"orient":"top","title":null,"tickSize":-3,"values":[0.2,0.3,0.4,0.5,0.6,0.7,0.8,0.9,1,2,3,4,5,6,7,8,9,10,20,30,40,50,60,70,80,90,100,200,300,400,500,600,700,800,900,1000,2000,3000,4000,5000,6000,7000,8000,9000,10000]}},
  "y":{"field":"c","type":"quantitative","scale":{"domain":[0,2.93],"nice":false},"axis":{"orient":"right","title":null,"values":[0,1,2]}}}}
 ],"resolve":{"axis":{"x":"independent","y":"independent"}}},
{"data":{"name":"MB"},"width":347,"height":53,"layer":[
 {"mark":{"type":"rect","fill":"#2e1f9c","stroke":"#1a1a2a","strokeWidth":0.7,"clip":true},"encoding":{
  "x":{"field":"a","type":"quantitative","scale":{"type":"log","domain":[0.194,10000],"nice":false},"axis":{"title":"mB [M⊙]","tickSize":-3,"values":[0.2,0.3,0.4,0.5,0.6,0.7,0.8,0.9,1,2,3,4,5,6,7,8,9,10,20,30,40,50,60,70,80,90,100,200,300,400,500,600,700,800,900,1000,2000,3000,4000,5000,6000,7000,8000,9000,10000],"labelExpr":"datum.value==1?'10⁰':datum.value==100?'10²':datum.value==10000?'10⁴':''","labelPadding":20,"titlePadding":6}},
  "x2":{"field":"b"},
  "y":{"field":"c","type":"quantitative","scale":{"domain":[0,2.93],"nice":false},"axis":{"title":"×10⁵","values":[0,1,2],"format":"~r"}},
  "y2":{"datum":0}}},
 {"mark":{"type":"point","opacity":0},"encoding":{
  "x":{"field":"a","type":"quantitative","scale":{"type":"log","domain":[0.194,10000],"nice":false},"axis":{"orient":"top","title":null,"tickSize":-3,"values":[0.2,0.3,0.4,0.5,0.6,0.7,0.8,0.9,1,2,3,4,5,6,7,8,9,10,20,30,40,50,60,70,80,90,100,200,300,400,500,600,700,800,900,1000,2000,3000,4000,5000,6000,7000,8000,9000,10000]}},
  "y":{"field":"c","type":"quantitative","scale":{"domain":[0,2.93],"nice":false},"axis":{"orient":"right","title":null,"values":[0,1,2]}}}}
 ],"resolve":{"axis":{"x":"independent","y":"independent"}}},
{"data":{"name":"MT"},"width":347,"height":53,"layer":[
 {"mark":{"type":"rect","fill":"#2e1f9c","stroke":"#1a1a2a","strokeWidth":0.7,"clip":true},"encoding":{
  "x":{"field":"a","type":"quantitative","scale":{"type":"log","domain":[0.316,10000],"nice":false},"axis":{"title":"mT [M⊙]","tickSize":-3,"values":[0.4,0.5,0.6,0.7,0.8,0.9,1,2,3,4,5,6,7,8,9,10,20,30,40,50,60,70,80,90,100,200,300,400,500,600,700,800,900,1000,2000,3000,4000,5000,6000,7000,8000,9000,10000],"labelExpr":"datum.value==1?'10⁰':datum.value==100?'10²':datum.value==10000?'10⁴':''","labelPadding":20,"titlePadding":6}},
  "x2":{"field":"b"},
  "y":{"field":"c","type":"quantitative","scale":{"domain":[0,2.93],"nice":false},"axis":{"title":"×10⁵","values":[0,1,2],"format":"~r"}},
  "y2":{"datum":0}}},
 {"mark":{"type":"point","opacity":0},"encoding":{
  "x":{"field":"a","type":"quantitative","scale":{"type":"log","domain":[0.316,10000],"nice":false},"axis":{"orient":"top","title":null,"tickSize":-3,"values":[0.4,0.5,0.6,0.7,0.8,0.9,1,2,3,4,5,6,7,8,9,10,20,30,40,50,60,70,80,90,100,200,300,400,500,600,700,800,900,1000,2000,3000,4000,5000,6000,7000,8000,9000,10000]}},
  "y":{"field":"c","type":"quantitative","scale":{"domain":[0,2.93],"nice":false},"axis":{"orient":"right","title":null,"values":[0,1,2]}}}}
 ],"resolve":{"axis":{"x":"independent","y":"independent"}}},
{"data":{"name":"KA"},"width":347,"height":53,"layer":[
 {"mark":{"type":"rect","fill":"#2e1f9c","stroke":"#1a1a2a","strokeWidth":0.7,"clip":true},"encoding":{
  "x":{"field":"a","type":"quantitative","scale":{"domain":[18.7,19.3],"nice":false,"zero":false},"axis":{"title":"KA [km/s]","values":[18.7,18.8,18.9,19,19.1,19.2,19.3],"format":"~r"}},
  "x2":{"field":"b"},
  "y":{"field":"c","type":"quantitative","scale":{"domain":[0,13],"nice":false},"axis":{"title":"×10⁴","values":[0,5,10],"format":"~r"}},
  "y2":{"datum":0}}},
 {"mark":{"type":"point","opacity":0},"encoding":{
  "x":{"field":"a","type":"quantitative","scale":{"domain":[18.7,19.3],"nice":false,"zero":false},"axis":{"orient":"top","title":null,"values":[18.7,18.8,18.9,19,19.1,19.2,19.3]}},
  "y":{"field":"c","type":"quantitative","scale":{"domain":[0,13],"nice":false},"axis":{"orient":"right","title":null,"values":[0,5,10]}}}}
 ],"resolve":{"axis":{"x":"independent","y":"independent"}}},
{"data":{"name":"KB"},"width":347,"height":53,"layer":[
 {"mark":{"type":"rect","fill":"#2e1f9c","stroke":"#1a1a2a","strokeWidth":0.7,"clip":true},"encoding":{
  "x":{"field":"a","type":"quantitative","scale":{"domain":[17,23],"nice":false,"zero":false},"axis":{"title":"KB [km/s]","values":[17,18,19,20,21,22,23],"format":"~r"}},
  "x2":{"field":"b"},
  "y":{"field":"c","type":"quantitative","scale":{"domain":[0,13],"nice":false},"axis":{"title":"×10⁴","values":[0,5,10],"format":"~r"}},
  "y2":{"datum":0}}},
 {"mark":{"type":"point","opacity":0},"encoding":{
  "x":{"field":"a","type":"quantitative","scale":{"domain":[17,23],"nice":false,"zero":false},"axis":{"orient":"top","title":null,"values":[17,18,19,20,21,22,23]}},
  "y":{"field":"c","type":"quantitative","scale":{"domain":[0,13],"nice":false},"axis":{"orient":"right","title":null,"values":[0,5,10]}}}}
 ],"resolve":{"axis":{"x":"independent","y":"independent"}}},
{"data":{"name":"Q"},"width":347,"height":53,"layer":[
 {"mark":{"type":"rect","fill":"#2e1f9c","stroke":"#1a1a2a","strokeWidth":0.7,"clip":true},"encoding":{
  "x":{"field":"a","type":"quantitative","scale":{"domain":[0.8,1.1],"nice":false,"zero":false},"axis":{"title":"mB/mA","values":[0.8,0.85,0.9,0.95,1,1.05,1.1],"format":"~r"}},
  "x2":{"field":"b"},
  "y":{"field":"c","type":"quantitative","scale":{"domain":[0,13.2],"nice":false},"axis":{"title":"×10⁴","values":[0,5,10],"format":"~r"}},
  "y2":{"datum":0}}},
 {"mark":{"type":"point","opacity":0},"encoding":{
  "x":{"field":"a","type":"quantitative","scale":{"domain":[0.8,1.1],"nice":false,"zero":false},"axis":{"orient":"top","title":null,"values":[0.8,0.85,0.9,0.95,1,1.05,1.1]}},
  "y":{"field":"c","type":"quantitative","scale":{"domain":[0,13.2],"nice":false},"axis":{"orient":"right","title":null,"values":[0,5,10]}}}}
 ],"resolve":{"axis":{"x":"independent","y":"independent"}}}
]
}
